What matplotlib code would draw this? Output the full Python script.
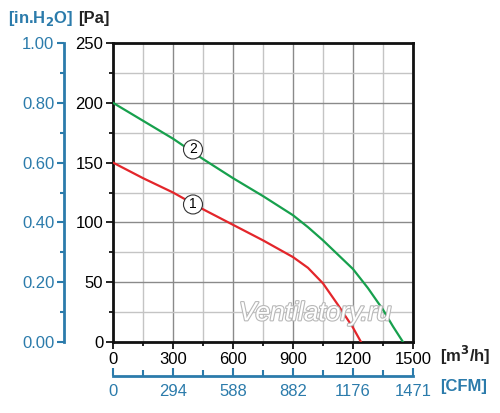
import matplotlib.pyplot as plt
import matplotlib.patheffects as pe
from matplotlib.ticker import MultipleLocator

plt.rcParams['font.family'] = ['Liberation Sans', 'DejaVu Sans']

# curve 1 (red) and curve 2 (green), flow in m3/h, pressure in Pa
flow_1 = [0, 150, 300, 450, 600, 750, 825, 900, 975, 1050, 1125, 1200, 1240]
pa_1 = [150, 137, 125, 111, 98, 85, 78, 71, 62, 49, 31, 12, 0]
flow_2 = [0, 150, 300, 450, 600, 750, 825, 900, 975, 1050, 1125, 1200, 1275, 1350, 1400, 1450]
pa_2 = [200, 185, 170, 153, 137, 122, 114, 106, 96, 85, 73, 61, 45, 27, 13, 0]

flow_ticks = [0, 300, 600, 900, 1200, 1500]
cfm_labels = ['0', '294', '588', '882', '1176', '1471']
pa_ticks = [0, 50, 100, 150, 200, 250]
inh2o_labels = ['0.00', '0.20', '0.40', '0.60', '0.80', '1.00']

BLUE = '#2b7bab'
RED = '#e3262b'
GREEN = '#17a04d'

fig = plt.figure(figsize=(5.0, 4.13), dpi=100)
ax = fig.add_axes([113/500, 1 - 342/413, 300/500, 299/413])

ax.plot(flow_1, pa_1, color=RED, lw=1.6, zorder=3)
ax.plot(flow_2, pa_2, color=GREEN, lw=1.6, zorder=3)

ax.set_xlim(0, 1500)
ax.set_ylim(0, 250)
ax.set_xticks(flow_ticks)
ax.set_yticks(pa_ticks)
ax.xaxis.set_minor_locator(MultipleLocator(150))
ax.yaxis.set_minor_locator(MultipleLocator(25))
ax.grid(which='major', color='#8a8a8a', lw=1.0)
ax.grid(which='minor', color='#c4c4c4', lw=1.0)
ax.set_axisbelow(True)
for s in ax.spines.values():
    s.set_linewidth(2.0)
    s.set_color('#111111')
ax.tick_params(which='major', length=5, width=1.2, labelsize=12, pad=2)
ax.tick_params(which='minor', length=3, width=1.2)

# curve labels
for txt, x, y in [('1', 400, 115), ('2', 400, 161)]:
    ax.text(x, y, txt, fontsize=10, ha='center', va='center', zorder=5,
            bbox=dict(boxstyle='circle,pad=0.18', fc='white', ec='#333333', lw=0.8))

# watermark
ax.text(1010, 24, 'Ventilatory.ru', fontsize=19, style='italic', color='white',
        ha='center', va='center', zorder=4,
        path_effects=[pe.withStroke(linewidth=1.6, foreground='#b8b8b8')])

# secondary axis in.H2O
sec_y = ax.secondary_yaxis(-49/300, functions=(lambda v: v, lambda v: v))
sec_y.set_alignment('left')
sec_y.set_yticks(pa_ticks, labels=inh2o_labels)
sec_y.yaxis.set_minor_locator(MultipleLocator(25))
sec_y.spines['left'].set_color(BLUE)
sec_y.spines['left'].set_linewidth(2.0)
sec_y.tick_params(which='both', colors=BLUE, labelsize=12, width=1.5)
sec_y.tick_params(which='major', length=5, pad=2)
sec_y.tick_params(which='minor', length=3)

# secondary axis CFM
sec_x = ax.secondary_xaxis(-34/299, functions=(lambda v: v, lambda v: v))
sec_x.set_alignment('bottom')
sec_x.set_xticks(flow_ticks, labels=cfm_labels)
sec_x.xaxis.set_minor_locator(MultipleLocator(150))
sec_x.spines['bottom'].set_color(BLUE)
sec_x.spines['bottom'].set_linewidth(2.0)
sec_x.tick_params(which='both', colors=BLUE, labelsize=12, width=1.5, direction='in')
sec_x.tick_params(which='major', length=6, pad=6)
sec_x.tick_params(which='minor', length=4)

# unit labels
fig.text(8/500, 1 - 18/413, '[in.H$_\\mathbf{2}$O]', color=BLUE, fontsize=12,
         fontweight='bold', ha='left', va='center')
fig.text(78/500, 1 - 18/413, '[Pa]', color='#222222', fontsize=12,
         fontweight='bold', ha='left', va='center')
fig.text(440/500, 1 - 355/413, '[m$^\\mathbf{3}$/h]', color='#222222', fontsize=12,
         fontweight='bold', ha='left', va='center')
fig.text(440/500, 1 - 386/413, '[CFM]', color=BLUE, fontsize=12,
         fontweight='bold', ha='left', va='center')

fig.savefig('out.png', dpi=100)
